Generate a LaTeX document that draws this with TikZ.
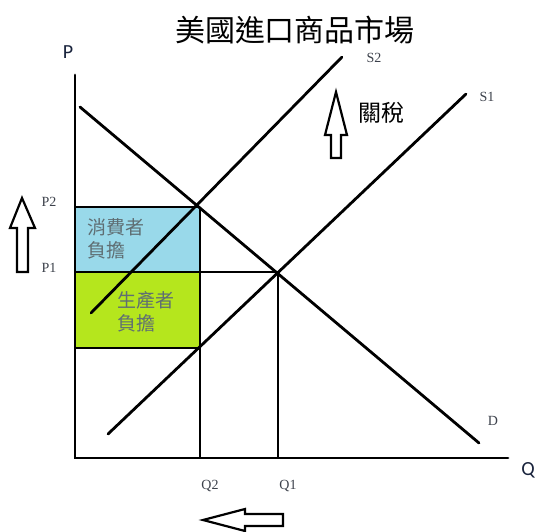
\documentclass[tikz,border=0pt]{standalone}
\usepackage{fontspec}
\setmainfont{Liberation Serif}
\newfontfamily\cjk{Noto Sans CJK TC}
\newfontfamily\calib{Carlito}
\definecolor{boxblue}{RGB}{153,217,234}
\definecolor{boxgreen}{RGB}{181,230,29}
\definecolor{lbl}{RGB}{60,65,75}
\definecolor{boxtxt}{RGB}{95,110,115}
\definecolor{axtxt}{RGB}{25,35,60}
\begin{document}
\begin{tikzpicture}[x=1pt,y=-1pt,
  ln/.style={line width=2.8pt, line cap=round},
  gl/.style={line width=2.4pt},
  blk/.style={line width=2.2pt, fill=white, line join=miter},
  tick/.style={font=\fontsize{14}{14}\selectfont, text=lbl, inner sep=0pt},
  boxlbl/.style={font=\cjk\fontsize{19}{23}\selectfont, text=boxtxt, align=left, inner sep=0pt}]
\useasboundingbox (0,0) rectangle (539,531);
% shaded regions
\fill[boxblue] (75,207) rectangle (200,272);
\fill[boxgreen] (75,272) rectangle (200,348);
% coordinates
\coordinate (O) at (75,458);
\coordinate (Ptop) at (75,75);
\coordinate (Qend) at (508,458);
\coordinate (E2) at (200,207);
\coordinate (E1) at (278,272);
\coordinate (P2a) at (75,207);
\coordinate (P1a) at (75,272);
\coordinate (Pba) at (75,348);
\coordinate (Pbb) at (200,348);
\coordinate (Q2a) at (200,458);
\coordinate (Q1a) at (278,458);
\coordinate (Dst) at (80,107);
\coordinate (Den) at (479,443);
\coordinate (S2st) at (91,313);
\coordinate (S2en) at (342,57);
\coordinate (S1st) at (108,434);
\coordinate (S1en) at (466,94);
% grid lines
\draw[gl] (P2a) -- (E2);
\draw[gl] (P1a) -- (E1);
\draw[gl] (Pba) -- (Pbb);
\draw[gl] (E2) -- (Q2a);
\draw[gl] (E1) -- (Q1a);
% curves
\draw[ln] (Dst) -- (Den);
\draw[ln] (S2st) -- (S2en);
\draw[ln] (S1st) -- (S1en);
% axes
\draw[ln] (Ptop) -- (O) -- (Qend);
% labels
\node[font=\calib\fontsize{20}{20}\selectfont, text=axtxt] (Plbl) at (68,52) {P};
\node[font=\calib\fontsize{20}{20}\selectfont, text=axtxt] (Qlbl) at (528,470) {Q};
\node[tick] (P2l) at (49,202) {P2};
\node[tick] (P1l) at (49,268) {P1};
\node[tick] (Q2l) at (210,486) {Q2};
\node[tick] (Q1l) at (288,486) {Q1};
\node[tick] (S2l) at (374,58) {S2};
\node[tick] (S1l) at (487,97) {S1};
\node[tick] (Dl) at (493,421) {D};
\node[font=\cjk\fontsize{30}{30}\selectfont, inner sep=0pt] (title) at (295,30) {美國進口商品市場};
\node[font=\cjk\fontsize{23}{23}\selectfont, inner sep=0pt] (tax) at (381,113) {關稅};
\node[boxlbl, anchor=north west] (cons) at (87,218) {消費者\\負擔};
\node[boxlbl, anchor=north west] (prod) at (117,291) {生產者\\負擔};
% block arrows
\draw[blk] (22,198) -- (35,228) -- (28,228) -- (28,272) -- (17,272) -- (17,228) -- (10,228) -- cycle;
\draw[blk] (336,92) -- (347,135) -- (341,135) -- (341,158) -- (331,158) -- (331,135) -- (325,135) -- cycle;
\draw[blk] (203,520) -- (245,509) -- (245,514) -- (283,514) -- (283,526) -- (245,526) -- (245,531) -- cycle;
\end{tikzpicture}
\end{document}
